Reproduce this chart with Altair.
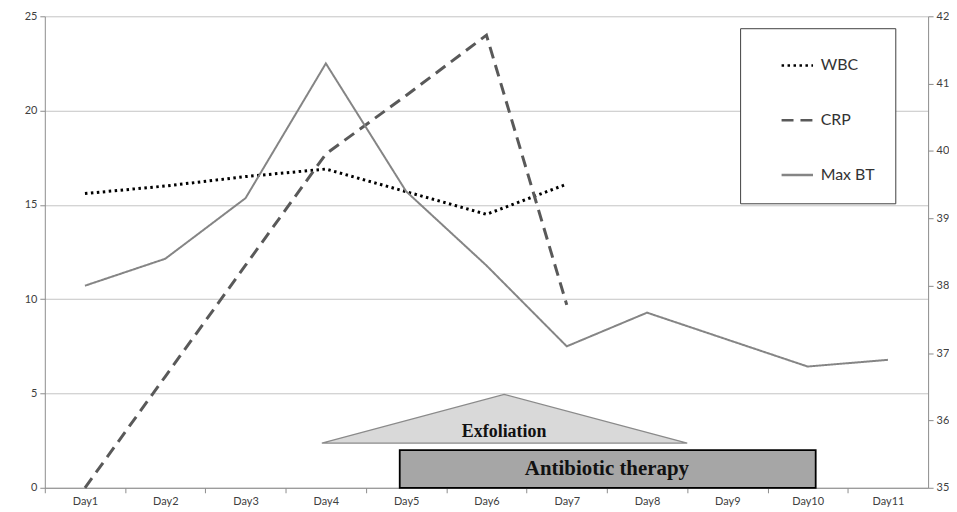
import altair as alt
import pandas as pd

# ---- data ----
days = [1, 2, 3, 4, 5, 6, 7, 8, 9, 10, 11]
wbc = [15.6, 16.0, 16.5, 16.9, 15.7, 14.5, 16.1]
crp = [0.0, 5.9, 11.8, 17.7, 20.8, 24.0, 9.7]
max_bt = [38.0, 38.4, 39.3, 41.3, 39.4, 38.3, 37.1, 37.6, 37.2, 36.8, 36.9]

series_names = ["WBC", "CRP", "Max BT"]
series_colors = ["#000000", "#595959", "#858585"]
series_dashes = [[2.5, 3.5], [12, 7], [1, 0]]

# annotations (in data units of the day axis / left axis)
exfol_x = [3.95, 6.22, 8.5]
exfol_top = [2.37, 4.95, 2.37]
exfol_base = 2.37
abx_start, abx_end, abx_top = 4.92, 10.1, 2.0
note_text = ["Exfoliation", "Antibiotic therapy"]
note_x = [6.22, 7.5]
note_y = [2.95, 1.0]
note_size = [18, 21]

# ---- tables ----
left_df = pd.DataFrame(
    [{"day": d, "value": v, "series": "WBC"} for d, v in zip(days, wbc)]
    + [{"day": d, "value": v, "series": "CRP"} for d, v in zip(days, crp)]
)
bt_df = pd.DataFrame({"day": days, "bt": max_bt, "series": "Max BT"})
tri_df = pd.DataFrame({"x": exfol_x, "y": exfol_top, "y2": exfol_base})
bar_df = pd.DataFrame({"x": [abx_start], "x2": [abx_end], "y": [0], "y2": [abx_top]})
txt_df = pd.DataFrame({"x": note_x, "y": note_y, "t": note_text, "s": note_size})

W, H = 888, 474
band = W / 11.0

x_enc = alt.X(
    "day:Q",
    scale=alt.Scale(domain=[0.5, 11.5], nice=False),
    axis=alt.Axis(
        values=[v + 0.5 for v in range(11)],
        labelExpr="'Day' + (datum.value + 0.5)",
        labelOffset=band / 2,
        labelFlush=False,
        grid=False,
        title=None,
        tickSize=5,
        labelPadding=3,
    ),
)
y_scale = alt.Scale(domain=[0, 25], nice=False)
y_axis = alt.Axis(values=[0, 5, 10, 15, 20, 25], grid=True, title=None,
                  tickSize=5, labelPadding=3)

legend = alt.Legend(
    orient="none", legendX=699, legendY=12, title=None,
    symbolType="stroke", symbolSize=1000, symbolStrokeWidth=2.6,
    labelFontSize=16, labelColor="#333333", labelFont="Lato",
    labelExpr="datum.label + '\u00a0\u00a0\u00a0\u00a0\u00a0\u00a0'",
    rowPadding=29, padding=20, symbolOffset=20, labelOffset=6,
    strokeColor="#404040", fillColor="white",
)
color_enc = alt.Color("series:N", scale=alt.Scale(domain=series_names, range=series_colors), legend=legend)
dash_enc = alt.StrokeDash("series:N", scale=alt.Scale(domain=series_names, range=series_dashes), legend=legend)

tri = alt.Chart(tri_df).mark_area(
    fill="#d9d9d9", stroke="#8a8a8a", strokeWidth=1.2
).encode(
    x=alt.X("x:Q", scale=alt.Scale(domain=[0.5, 11.5], nice=False)),
    y=alt.Y("y:Q", scale=y_scale, axis=y_axis),
    y2="y2:Q",
)
bar = alt.Chart(bar_df).mark_rect(
    fill="#a6a6a6", stroke="#000000", strokeWidth=1.8
).encode(
    x=alt.X("x:Q", scale=alt.Scale(domain=[0.5, 11.5], nice=False)),
    x2="x2:Q",
    y=alt.Y("y:Q", scale=y_scale, axis=y_axis),
    y2="y2:Q",
)
txt = alt.Chart(txt_df).mark_text(
    font="Liberation Serif", fontWeight="bold", color="#111111"
).encode(
    x=alt.X("x:Q", scale=alt.Scale(domain=[0.5, 11.5], nice=False)),
    y=alt.Y("y:Q", scale=y_scale, axis=y_axis),
    text="t:N",
    size=alt.Size("s:Q", scale=None, legend=None),
)
lines_left = alt.Chart(left_df).mark_line(strokeWidth=3, strokeCap="butt").encode(
    x=x_enc,
    y=alt.Y("value:Q", scale=y_scale, axis=y_axis),
    color=color_enc,
    strokeDash=dash_enc,
    detail="series:N",
)
left = alt.layer(tri, bar, lines_left, txt)

right = alt.Chart(bt_df).mark_line(strokeWidth=2).encode(
    x=x_enc,
    y=alt.Y("bt:Q", scale=alt.Scale(domain=[35, 42], nice=False),
            axis=alt.Axis(orient="right", values=list(range(35, 43)), grid=False,
                          title=None, tickSize=5, labelPadding=3)),
    color=color_enc,
    strokeDash=dash_enc,
)

chart = (
    alt.layer(left, right)
    .resolve_scale(y="independent")
    .properties(width=W, height=H, padding={"left": 16, "top": 1, "right": 0, "bottom": 0})
    .configure_view(stroke=None)
    .configure_axis(
        domainColor="#8c8c8c", tickColor="#8c8c8c", gridColor="#c4c4c4",
        labelColor="#404040", labelFont="Lato", labelFontSize=11,
    )
)

chart.save("out.html", embed_options={"renderer": "svg", "actions": False})
